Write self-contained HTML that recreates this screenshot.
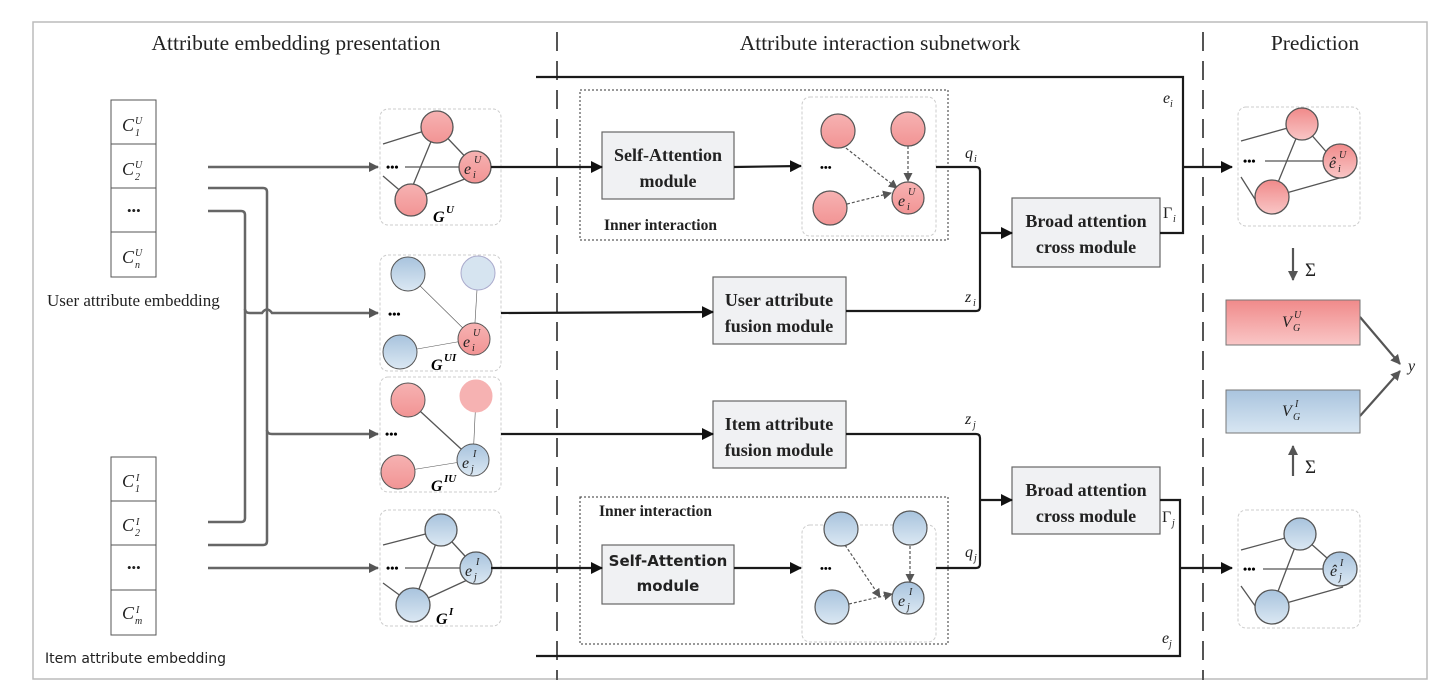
<!DOCTYPE html>
<html><head><meta charset="utf-8"><style>
html,body{margin:0;padding:0;background:#fff;}
svg{display:block;}
text{font-family:"Liberation Serif",serif;}
.t{font-size:21.5px;fill:#222;}
.b{font-weight:bold;font-size:18px;fill:#222;}
.m{font-style:italic;font-size:16px;fill:#222;}
.s{font-style:italic;font-size:10px;fill:#222;}
</style></head><body>
<svg width="1440" height="684" viewBox="0 0 1440 684" xmlns="http://www.w3.org/2000/svg">
<defs>
<linearGradient id="rg" x1="0" y1="0" x2="0" y2="1"><stop offset="0" stop-color="#f08a8a"/><stop offset="1" stop-color="#f9c6c6"/></linearGradient>
<linearGradient id="rc" x1="0" y1="0" x2="0" y2="1"><stop offset="0" stop-color="#f6b2b2"/><stop offset="1" stop-color="#f29494"/></linearGradient>
<linearGradient id="bg" x1="0" y1="0" x2="0" y2="1"><stop offset="0" stop-color="#a9c4de"/><stop offset="1" stop-color="#d8e6f2"/></linearGradient>
<linearGradient id="bc" x1="0" y1="0" x2="0" y2="1"><stop offset="0" stop-color="#a8c3dd"/><stop offset="1" stop-color="#dbe8f3"/></linearGradient>
<marker id="ag" markerWidth="10" markerHeight="10" refX="9" refY="5" orient="auto" markerUnits="userSpaceOnUse"><path d="M0,0 L10,5 L0,10 z" fill="#555"/></marker>
<marker id="ak" markerWidth="12" markerHeight="12" refX="11" refY="6" orient="auto" markerUnits="userSpaceOnUse"><path d="M0,0 L12,6 L0,12 z" fill="#111"/></marker>
<marker id="ad" markerWidth="9" markerHeight="9" refX="8" refY="4.5" orient="auto" markerUnits="userSpaceOnUse"><path d="M0,0 L9,4.5 L0,9 z" fill="#555"/></marker>
</defs>

<rect x="33" y="22" width="1394" height="657" fill="none" stroke="#bbb" stroke-width="1.5"/>
<line x1="557" y1="32" x2="557" y2="680" stroke="#555" stroke-width="2" stroke-dasharray="19,10"/>
<line x1="1203" y1="32" x2="1203" y2="680" stroke="#555" stroke-width="2" stroke-dasharray="19,10"/>

<text class="t" x="296" y="50" text-anchor="middle">Attribute embedding presentation</text>
<text class="t" x="880" y="50" text-anchor="middle">Attribute interaction subnetwork</text>
<text class="t" x="1315" y="50" text-anchor="middle">Prediction</text>

<g stroke="#555" fill="#fff" stroke-width="1">
<rect x="111" y="100" width="45" height="44"/><rect x="111" y="144" width="45" height="44"/>
<rect x="111" y="188" width="45" height="44"/><rect x="111" y="232" width="45" height="45"/>
<rect x="111" y="457" width="45" height="44"/><rect x="111" y="501" width="45" height="44"/>
<rect x="111" y="545" width="45" height="45"/><rect x="111" y="590" width="45" height="45"/>
</g>
<g class="m">
<text x="122" y="131" style="font-size:18px">C</text><text class="s" x="135" y="136">1</text><text class="s" x="135" y="124">U</text>
<text x="122" y="175" style="font-size:18px">C</text><text class="s" x="135" y="180">2</text><text class="s" x="135" y="168">U</text>
<text x="127" y="215" style="font-style:normal;font-size:13px">•••</text>
<text x="122" y="263" style="font-size:18px">C</text><text class="s" x="135" y="268">n</text><text class="s" x="135" y="256">U</text>
<text x="122" y="487" style="font-size:18px">C</text><text class="s" x="135" y="492">1</text><text class="s" x="136" y="481">I</text>
<text x="122" y="531" style="font-size:18px">C</text><text class="s" x="135" y="536">2</text><text class="s" x="136" y="525">I</text>
<text x="127" y="572" style="font-style:normal;font-size:13px">•••</text>
<text x="122" y="619" style="font-size:18px">C</text><text class="s" x="135" y="624">m</text><text class="s" x="136" y="613">I</text>
</g>
<text x="47" y="306" style="font-size:17px;fill:#222">User attribute embedding</text>
<text x="45" y="663" style="fill:#222;font-family:'DejaVu Sans',sans-serif;font-size:14px">Item attribute embedding</text>

<g stroke="#666" stroke-width="2.5" fill="none">
<line x1="208" y1="167" x2="378" y2="167" marker-end="url(#ag)"/>
<path d="M208,188 H263 Q267,188 267,192 V541 Q267,545 263,545 H208"/>
<path d="M208,211 H241 Q245,211 245,215 V518 Q245,522 241,522 H208"/>
<path d="M245,309 Q245,313 250,313 H262 Q267,306 272,313 H378" marker-end="url(#ag)"/>
<path d="M267,430 Q267,434 272,434 H378" marker-end="url(#ag)"/>
<line x1="208" y1="568" x2="378" y2="568" marker-end="url(#ag)"/>
</g>

<g fill="none" stroke="#ccc" stroke-dasharray="3,2">
<rect x="380" y="109" width="121" height="116" rx="8"/>
<rect x="380" y="255" width="121" height="116" rx="8"/>
<rect x="380" y="377" width="121" height="115" rx="8"/>
<rect x="380" y="510" width="121" height="116" rx="8"/>
<rect x="802" y="97" width="134" height="139" rx="8"/>
<rect x="802" y="525" width="134" height="117" rx="8"/>
<rect x="1238" y="107" width="122" height="119" rx="8"/>
<rect x="1238" y="510" width="122" height="118" rx="8"/>
</g>

<g stroke="#555" stroke-width="1.3">
<line x1="383" y1="144" x2="437" y2="127"/><line x1="437" y1="127" x2="475" y2="167"/>
<line x1="405" y1="167" x2="475" y2="167"/><line x1="437" y1="127" x2="411" y2="190"/>
<line x1="411" y1="200" x2="475" y2="175"/><line x1="383" y1="176" x2="411" y2="200"/>
<circle cx="437" cy="127" r="16" fill="url(#rc)"/><circle cx="411" cy="200" r="16" fill="url(#rc)"/>
<circle cx="475" cy="167" r="16" fill="url(#rc)"/>
</g>
<text x="386" y="171" style="font-size:12px;font-weight:bold">•••</text>
<text class="m" x="464" y="174">e</text><text class="s" x="473" y="178">i</text><text class="s" x="474" y="163">U</text>
<text x="433" y="222" style="font-style:italic;font-weight:bold;font-size:16px">G</text><text x="446" y="213" style="font-style:italic;font-weight:bold;font-size:11px">U</text>

<g stroke="#555" stroke-width="1">
<line x1="408" y1="274" x2="474" y2="339" stroke-width="0.6"/><line x1="478" y1="273" x2="474" y2="339" stroke-width="0.6"/>
<line x1="400" y1="352" x2="474" y2="339" stroke-width="0.6"/>
<circle cx="408" cy="274" r="17" fill="url(#bc)"/><circle cx="478" cy="273" r="17" fill="#d6e4f0" stroke="#aac"/>
<circle cx="400" cy="352" r="17" fill="url(#bc)"/><circle cx="474" cy="339" r="16" fill="url(#rc)"/>
</g>
<text x="388" y="318" style="font-size:12px;font-weight:bold">•••</text>
<text class="m" x="463" y="347">e</text><text class="s" x="472" y="351">i</text><text class="s" x="473" y="336">U</text>
<text x="431" y="370" style="font-style:italic;font-weight:bold;font-size:16px">G</text><text x="444" y="361" style="font-style:italic;font-weight:bold;font-size:11px">UI</text>

<g stroke="#555" stroke-width="1">
<line x1="408" y1="400" x2="473" y2="460" stroke-width="1.3"/><line x1="476" y1="396" x2="473" y2="460" stroke-width="0.6"/>
<line x1="398" y1="472" x2="473" y2="460" stroke-width="0.6"/>
<circle cx="408" cy="400" r="17" fill="url(#rc)"/><circle cx="476" cy="396" r="16" fill="#f6b2b2" stroke="#f6b2b2"/>
<circle cx="398" cy="472" r="17" fill="url(#rc)"/><circle cx="473" cy="460" r="16" fill="url(#bc)"/>
</g>
<text x="385" y="438" style="font-size:12px;font-weight:bold">•••</text>
<text class="m" x="462" y="468">e</text><text class="s" x="471" y="472">j</text><text class="s" x="473" y="457">I</text>
<text x="431" y="491" style="font-style:italic;font-weight:bold;font-size:16px">G</text><text x="444" y="482" style="font-style:italic;font-weight:bold;font-size:11px">IU</text>

<g stroke="#555" stroke-width="1.3">
<line x1="383" y1="545" x2="441" y2="530"/><line x1="441" y1="530" x2="476" y2="568"/>
<line x1="405" y1="568" x2="476" y2="568"/><line x1="441" y1="530" x2="413" y2="605"/>
<line x1="413" y1="605" x2="476" y2="576"/><line x1="383" y1="583" x2="413" y2="605"/>
<circle cx="441" cy="530" r="16" fill="url(#bc)"/><circle cx="413" cy="605" r="17" fill="url(#bc)"/>
<circle cx="476" cy="568" r="16" fill="url(#bc)"/>
</g>
<text x="386" y="572" style="font-size:12px;font-weight:bold">•••</text>
<text class="m" x="465" y="576">e</text><text class="s" x="474" y="580">j</text><text class="s" x="476" y="565">I</text>
<text x="436" y="624" style="font-style:italic;font-weight:bold;font-size:16px">G</text><text x="449" y="615" style="font-style:italic;font-weight:bold;font-size:11px">I</text>

<rect x="580" y="90" width="368" height="150" fill="none" stroke="#333" stroke-dasharray="2,2"/>
<rect x="580" y="497" width="368" height="147" fill="none" stroke="#333" stroke-dasharray="2,2"/>
<text class="b" x="604" y="230" style="font-size:15.5px">Inner interaction</text>
<text class="b" x="599" y="516" style="font-size:15.5px">Inner interaction</text>

<g fill="#f0f1f3" stroke="#666" stroke-width="1.2">
<rect x="602" y="132" width="132" height="67"/>
<rect x="602" y="545" width="132" height="59"/>
<rect x="713" y="277" width="133" height="67"/>
<rect x="713" y="401" width="133" height="67"/>
<rect x="1012" y="198" width="148" height="69"/>
<rect x="1012" y="467" width="148" height="67"/>
</g>
<g class="b" text-anchor="middle">
<text x="668" y="161">Self-Attention</text><text x="668" y="187">module</text>
<text x="668" y="566" style="font-family:'DejaVu Sans',sans-serif;font-size:15px">Self-Attention</text><text x="668" y="591" style="font-family:'DejaVu Sans',sans-serif;font-size:15px">module</text>
<text x="779" y="306">User attribute</text><text x="779" y="332">fusion module</text>
<text x="779" y="430">Item attribute</text><text x="779" y="456">fusion module</text>
<text x="1086" y="227">Broad attention</text><text x="1086" y="253">cross module</text>
<text x="1086" y="496">Broad attention</text><text x="1086" y="522">cross module</text>
</g>

<g stroke="#555" stroke-width="1.2">
<line x1="842" y1="145" x2="897" y2="188" stroke-dasharray="3,2" marker-end="url(#ad)"/>
<line x1="908" y1="146" x2="908" y2="181" stroke-dasharray="3,2" marker-end="url(#ad)"/>
<line x1="847" y1="204" x2="891" y2="193" stroke-dasharray="3,2" marker-end="url(#ad)"/>
<circle cx="838" cy="131" r="17" fill="url(#rc)"/><circle cx="908" cy="129" r="17" fill="url(#rc)"/>
<circle cx="830" cy="208" r="17" fill="url(#rc)"/><circle cx="908" cy="198" r="16" fill="url(#rc)"/>
</g>
<text x="820" y="171" style="font-size:11px;font-weight:bold">•••</text>
<text class="m" x="898" y="206">e</text><text class="s" x="907" y="210">i</text><text class="s" x="908" y="195">U</text>

<g stroke="#555" stroke-width="1.2">
<line x1="845" y1="545" x2="880" y2="597" stroke-dasharray="3,2" marker-end="url(#ad)"/>
<line x1="910" y1="546" x2="910" y2="582" stroke-dasharray="3,2" marker-end="url(#ad)"/>
<line x1="849" y1="604" x2="892" y2="594" stroke-dasharray="3,2" marker-end="url(#ad)"/>
<circle cx="841" cy="529" r="17" fill="url(#bc)"/><circle cx="910" cy="528" r="17" fill="url(#bc)"/>
<circle cx="832" cy="607" r="17" fill="url(#bc)"/><circle cx="908" cy="598" r="16" fill="url(#bc)"/>
</g>
<text x="820" y="572" style="font-size:11px;font-weight:bold">•••</text>
<text class="m" x="898" y="606">e</text><text class="s" x="907" y="610">j</text><text class="s" x="909" y="595">I</text>

<g stroke="#1a1a1a" stroke-width="2.2" fill="none">
<line x1="491" y1="167" x2="602" y2="167" marker-end="url(#ak)"/>
<line x1="734" y1="167" x2="801" y2="166" marker-end="url(#ak)"/>
<line x1="501" y1="313" x2="713" y2="312" marker-end="url(#ak)"/>
<line x1="501" y1="434" x2="713" y2="434" marker-end="url(#ak)"/>
<line x1="491" y1="568" x2="602" y2="568" marker-end="url(#ak)"/>
<line x1="734" y1="568" x2="801" y2="568" marker-end="url(#ak)"/>
<path d="M936,167 H976 Q980,167 980,171 V307 Q980,311 976,311 H846"/>
<path d="M980,233 H1012" marker-end="url(#ak)"/>
<path d="M846,434 H976 Q980,434 980,438 V564 Q980,568 976,568 H936"/>
<path d="M980,500 H1012" marker-end="url(#ak)"/>
<path d="M536,77 H1183 V233 H1160"/>
<line x1="1183" y1="167" x2="1232" y2="167" marker-end="url(#ak)"/>
<path d="M536,656 H1180 V500 H1160"/>
<line x1="1180" y1="568" x2="1232" y2="568" marker-end="url(#ak)"/>
</g>
<g class="m">
<text x="965" y="158">q</text><text class="s" x="974" y="162">i</text>
<text x="965" y="302">z</text><text class="s" x="973" y="306">i</text>
<text x="965" y="424">z</text><text class="s" x="973" y="428">j</text>
<text x="965" y="557">q</text><text class="s" x="974" y="561">j</text>
<text x="1163" y="103">e</text><text class="s" x="1170" y="107">i</text>
<text x="1163" y="218" style="font-style:normal">Γ</text><text class="s" x="1173" y="222">i</text>
<text x="1162" y="522" style="font-style:normal">Γ</text><text class="s" x="1172" y="526">j</text>
<text x="1162" y="643">e</text><text class="s" x="1169" y="647">j</text>
</g>

<g stroke="#555" stroke-width="1.3">
<line x1="1241" y1="141" x2="1302" y2="124"/><line x1="1302" y1="124" x2="1336" y2="163"/>
<line x1="1265" y1="161" x2="1336" y2="161"/><line x1="1302" y1="124" x2="1272" y2="197"/>
<line x1="1272" y1="197" x2="1343" y2="177"/><line x1="1241" y1="177" x2="1258" y2="204"/>
<circle cx="1302" cy="124" r="16" fill="url(#rg)"/><circle cx="1272" cy="197" r="17" fill="url(#rg)"/>
<circle cx="1340" cy="161" r="17" fill="url(#rg)"/>
</g>
<text x="1243" y="165" style="font-size:12px;font-weight:bold">•••</text>
<text class="m" x="1329" y="168">ê</text><text class="s" x="1338" y="172">i</text><text class="s" x="1339" y="158">U</text>
<g stroke="#555" stroke-width="1.3">
<line x1="1241" y1="550" x2="1300" y2="534"/><line x1="1300" y1="534" x2="1336" y2="566"/>
<line x1="1263" y1="569" x2="1336" y2="569"/><line x1="1300" y1="534" x2="1272" y2="607"/>
<line x1="1272" y1="607" x2="1343" y2="587"/><line x1="1241" y1="586" x2="1258" y2="610"/>
<circle cx="1300" cy="534" r="16" fill="url(#bc)"/><circle cx="1272" cy="607" r="17" fill="url(#bc)"/>
<circle cx="1340" cy="569" r="17" fill="url(#bc)"/>
</g>
<text x="1243" y="573" style="font-size:12px;font-weight:bold">•••</text>
<text class="m" x="1330" y="576">ê</text><text class="s" x="1339" y="580">j</text><text class="s" x="1340" y="566">I</text>

<g stroke="#555" stroke-width="2.2">
<line x1="1293" y1="248" x2="1293" y2="280" marker-end="url(#ag)"/>
<line x1="1293" y1="476" x2="1293" y2="446" marker-end="url(#ag)"/>
<line x1="1360" y1="317" x2="1400" y2="364" marker-end="url(#ag)"/>
<line x1="1360" y1="416" x2="1400" y2="371" marker-end="url(#ag)"/>
</g>
<text x="1305" y="276" style="font-size:19px;fill:#222">Σ</text>
<text x="1305" y="473" style="font-size:19px;fill:#222">Σ</text>
<rect x="1226" y="300" width="134" height="45" fill="url(#rg)" stroke="#777"/>
<rect x="1226" y="390" width="134" height="43" fill="url(#bg)" stroke="#777"/>
<text class="m" x="1282" y="327">V</text><text class="s" x="1293" y="331">G</text><text class="s" x="1294" y="318">U</text>
<text class="m" x="1282" y="416">V</text><text class="s" x="1293" y="420">G</text><text class="s" x="1295" y="407">I</text>
<text class="m" x="1408" y="371">y</text>
</svg>
</body></html>
